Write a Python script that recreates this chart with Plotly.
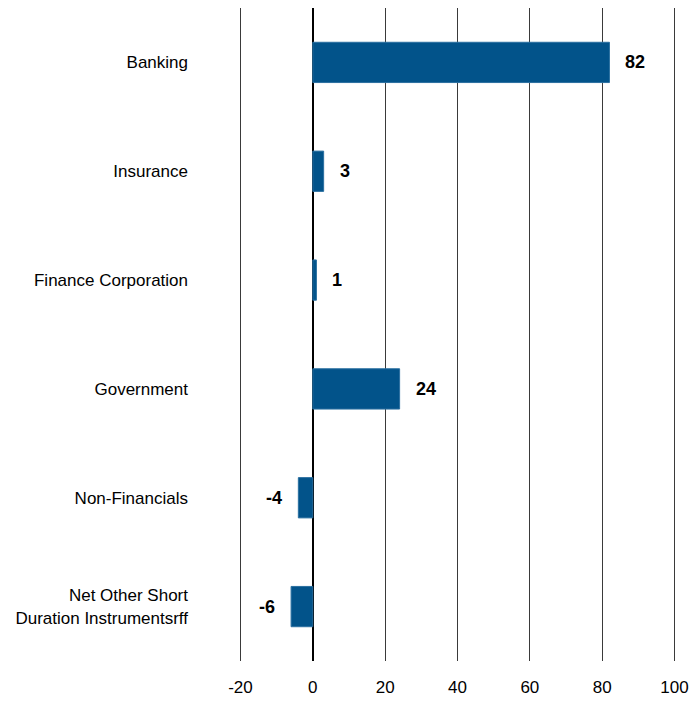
import plotly.graph_objects as go

categories = ["Banking", "Insurance", "Finance Corporation", "Government",
              "Non-Financials", "Net Other Short<br>Duration Instrumentsrff"]
values = [82, 3, 1, 24, -4, -6]
labels = ["82", "3", "1", "24", "-4", "-6"]
x_ticks = [-20, 0, 20, 40, 60, 80, 100]
x_tick_text = ["-20", "0", "20", "40", "60", "80", "100"]

FONT = "Liberation Sans, Arial"
BAR = "#02538A"

fig = go.Figure(go.Bar(
    x=values, y=categories, orientation="h",
    marker=dict(color=BAR, line=dict(color="#2A6FA0", width=1)),
    width=0.37,
))

for c, v, t in zip(categories, values, labels):
    fig.add_annotation(
        x=v, y=c, text="<b>%s</b>" % t, showarrow=False,
        xanchor="left" if v >= 0 else "right",
        xshift=14 if v >= 0 else -14,
        font=dict(family=FONT, size=18, color="#000"),
    )

fig.update_layout(
    width=693, height=703,
    margin=dict(l=238.5, r=16.5, t=8, b=42),
    plot_bgcolor="white", paper_bgcolor="white",
    showlegend=False,
    font=dict(family=FONT, size=17, color="#000"),
    xaxis=dict(
        range=[-20.4, 100.4], tickvals=x_ticks, ticktext=x_tick_text,
        showgrid=True, gridcolor="#3a3a3a", gridwidth=1,
        zeroline=True, zerolinecolor="#000", zerolinewidth=1.5,
        ticks="", ticklabelstandoff=14,
        showline=False, fixedrange=True, automargin=False,
        tickfont=dict(family=FONT, size=17),
    ),
    yaxis=dict(
        categoryorder="array", categoryarray=categories[::-1],
        showgrid=False, zeroline=False, showline=False, ticks="",
        ticklabelstandoff=50, automargin=False, fixedrange=True,
        tickfont=dict(family=FONT, size=17),
    ),
)

fig.write_html(
    "out.html",
    config={"displayModeBar": False},
    post_script="document.body.style.margin='0';document.body.style.overflow='hidden';",
)
